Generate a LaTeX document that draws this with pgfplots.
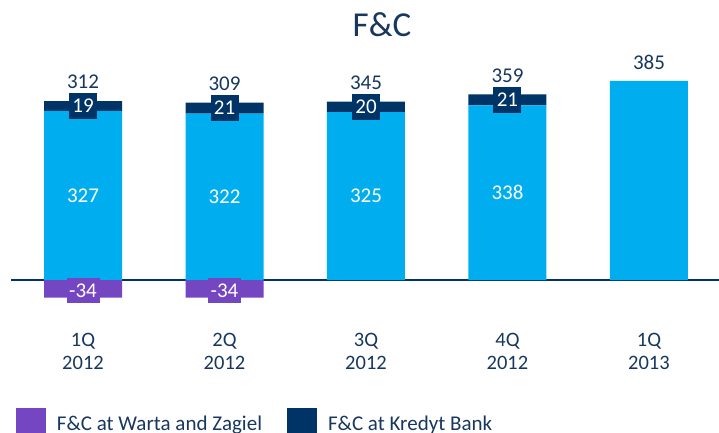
\documentclass[border=0pt]{standalone}
\usepackage{fontspec}
\setmainfont{Carlito}
\usepackage{pgfplots}
\pgfplotsset{compat=1.18}
\definecolor{lightb}{HTML}{00ADEE}
\definecolor{navyb}{HTML}{003366}
\definecolor{purp}{HTML}{7446C2}
\definecolor{txt}{HTML}{17375E}
\pgfplotsset{base/.style={
  scale only axis, width=708pt, height=237.8pt, at={(11pt,132.3pt)}, anchor=south west,
  xmin=-0.509, xmax=4.495, ymin=-40, ymax=420, enlargelimits=false, clip=false,
  axis line style={draw=none}, ytick=\empty, xtick=\empty}}
\begin{document}
\begin{tikzpicture}
\begin{axis}[base, ybar stacked, bar width=78pt,
  extra y ticks={0}, extra y tick labels={},
  extra y tick style={grid=major, major grid style={navyb, line width=2pt}, major tick length=0pt},
  title={F\&C},
  title style={font=\fontsize{35}{40}\selectfont, text=txt, at={(0.524,1.084)}, anchor=base},
]
\addplot[fill=lightb, draw=none] coordinates {(0,327) (1,322) (2,325) (3,338) (4,385)};
\addplot[fill=navyb, draw=none] coordinates {(0,19) (1,21) (2,20) (3,21) (4,0)};
\end{axis}
\begin{axis}[base,
  legend style={at={(0.007,-0.451)}, anchor=north west, draw=none, fill=none,
    inner sep=0pt, outer sep=0pt, legend columns=2,
    font=\fontsize{21}{25}\selectfont, text=txt,
    /tikz/every odd column/.append style={column sep=9pt},
    /tikz/every even column/.append style={column sep=23pt}},
  legend cell align=left,
  legend image code/.code={\fill[#1] (0pt,-12pt) rectangle (30pt,16.5pt);},
]
\addplot[ybar, bar width=78pt, bar shift=0pt, fill=purp, draw=none, forget plot]
  coordinates {(0,-34) (1,-34)};
% category labels
\addplot[draw=none, mark=none, forget plot, nodes near coords, point meta=explicit symbolic,
  nodes near coords align={center},
  nodes near coords style={text=txt, align=center, font=\fontsize{20.5}{23}\selectfont}]
  coordinates {(0,-138)[{1Q\\2012}] (1,-138)[{2Q\\2012}] (2,-138)[{3Q\\2012}] (3,-138)[{4Q\\2012}] (4,-138)[{1Q\\2013}]};
% totals
\addplot[draw=none, mark=none, forget plot, nodes near coords, point meta=explicit symbolic,
  nodes near coords align={center},
  nodes near coords style={text=txt, font=\fontsize{21}{25}\selectfont}]
  coordinates {(0,383)[312] (1,380)[309] (2,381)[345] (3,395)[359] (4,420)[385]};
% light segment labels
\addplot[draw=none, mark=none, forget plot, nodes near coords, point meta=explicit symbolic,
  nodes near coords align={center},
  nodes near coords style={text=white, font=\fontsize{21}{25}\selectfont}]
  coordinates {(0,163.5)[327] (1,161)[322] (2,162.5)[325] (3,169)[338]};
% dark segment labels
\addplot[draw=none, mark=none, forget plot, nodes near coords, point meta=explicit symbolic,
  nodes near coords align={center},
  nodes near coords style={text=white, fill=navyb, inner sep=0pt, minimum width=28pt, minimum height=26pt, font=\fontsize{21}{25}\selectfont}]
  coordinates {(0,336.5)[19] (1,332.5)[21] (2,335)[20] (3,348.5)[21]};
% purple labels
\addplot[draw=none, mark=none, forget plot, nodes near coords, point meta=explicit symbolic,
  nodes near coords align={center},
  nodes near coords style={text=white, fill=purp, inner sep=0pt, minimum width=33pt, minimum height=25pt, font=\fontsize{21}{25}\selectfont}]
  coordinates {(0,-20)[-34] (1,-20)[-34]};
\addlegendimage{fill=purp, draw=none}
\addlegendentry{F\&C at Warta and Zagiel}
\addlegendimage{fill=navyb, draw=none}
\addlegendentry{F\&C at Kredyt Bank}
\end{axis}
\pgfresetboundingbox
\useasboundingbox (0,0) rectangle (719pt,433pt);
\end{tikzpicture}
\end{document}
